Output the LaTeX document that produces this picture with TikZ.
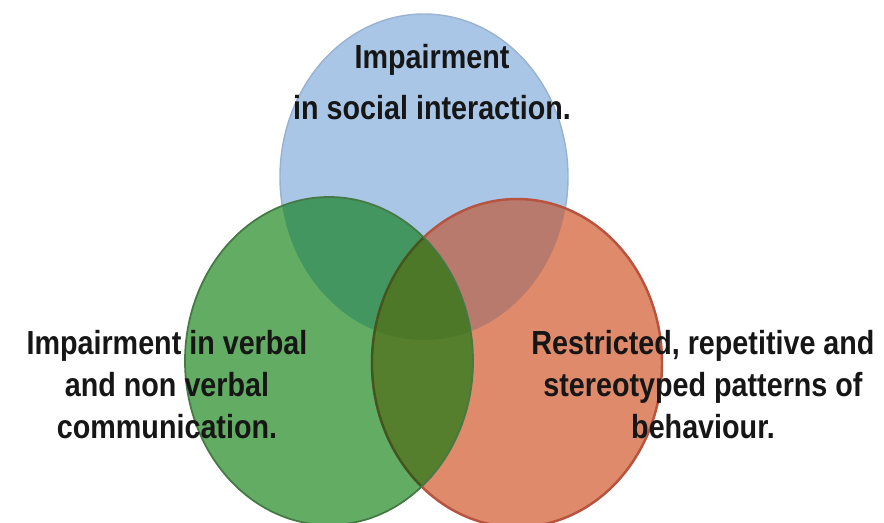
\documentclass[tikz,border=0pt]{standalone}
\usepackage{fontspec}
\setmainfont{Liberation Sans}[FakeStretch=0.86]
\usepackage{xcolor}
\usetikzlibrary{positioning}

\definecolor{socialblue}{HTML}{A9C6E7}
\definecolor{verbalgreen}{HTML}{62AD63}
\definecolor{restrictorange}{HTML}{DE8A6B}
\definecolor{bluegreen}{HTML}{439660}
\definecolor{blueorange}{HTML}{B77A6D}
\definecolor{greenorange}{HTML}{557F2C}
\definecolor{allthree}{HTML}{4C7827}
\definecolor{labelink}{HTML}{161616}

\tikzset{
    setlabel/.style={align=center, text=labelink, inner sep=0pt,
        font=\bfseries\fontsize{19}{23.9}\selectfont},
    blueedge/.style={draw=socialblue!90!black, line width=0.8pt},
    greenedge/.style={draw=verbalgreen!70!black, line width=1pt},
    orangeedge/.style={draw=restrictorange!75!red!80!black, line width=1.4pt}
}

\begin{document}
\begin{tikzpicture}
    \useasboundingbox (0,0) rectangle (17.68,10.44);
    % the three sets
    \def\social{(8.48,6.90) ellipse [x radius=2.88cm, y radius=3.26cm]}
    \def\verbal{(6.58,3.22) ellipse [x radius=2.88cm, y radius=3.28cm]}
    \def\restrict{(10.34,3.18) ellipse [x radius=2.90cm, y radius=3.28cm]}
    \fill [socialblue] \social;
    \draw [blueedge] \social;
    \fill [restrictorange] \restrict;
    \fill [verbalgreen] \verbal;
    % overlaps
    \begin{scope}
        \clip \social;
        \fill [bluegreen] \verbal;
        \fill [blueorange] \restrict;
    \end{scope}
    \begin{scope}
        \clip \verbal;
        \fill [greenorange] \restrict;
        \clip \restrict;
        \fill [allthree] \social;
    \end{scope}
    % outlines
    \draw [orangeedge] \restrict;
    \begin{scope}
        \clip \verbal;
        \draw [draw=greenorange!70!black, line width=1.4pt] \restrict;
    \end{scope}
    \draw [greenedge] \verbal;
    % labels
    \node [setlabel] (social) at (8.64,8.80) {Impairment\\[5.2pt]in social interaction.};
    \node [setlabel] (verbal) at (3.34,2.74) {Impairment in verbal\\and non verbal\\communication.};
    \node [setlabel] (restrict) at (14.06,2.74) {Restricted, repetitive and\\stereotyped patterns of\\behaviour.};
\end{tikzpicture}
\end{document}
